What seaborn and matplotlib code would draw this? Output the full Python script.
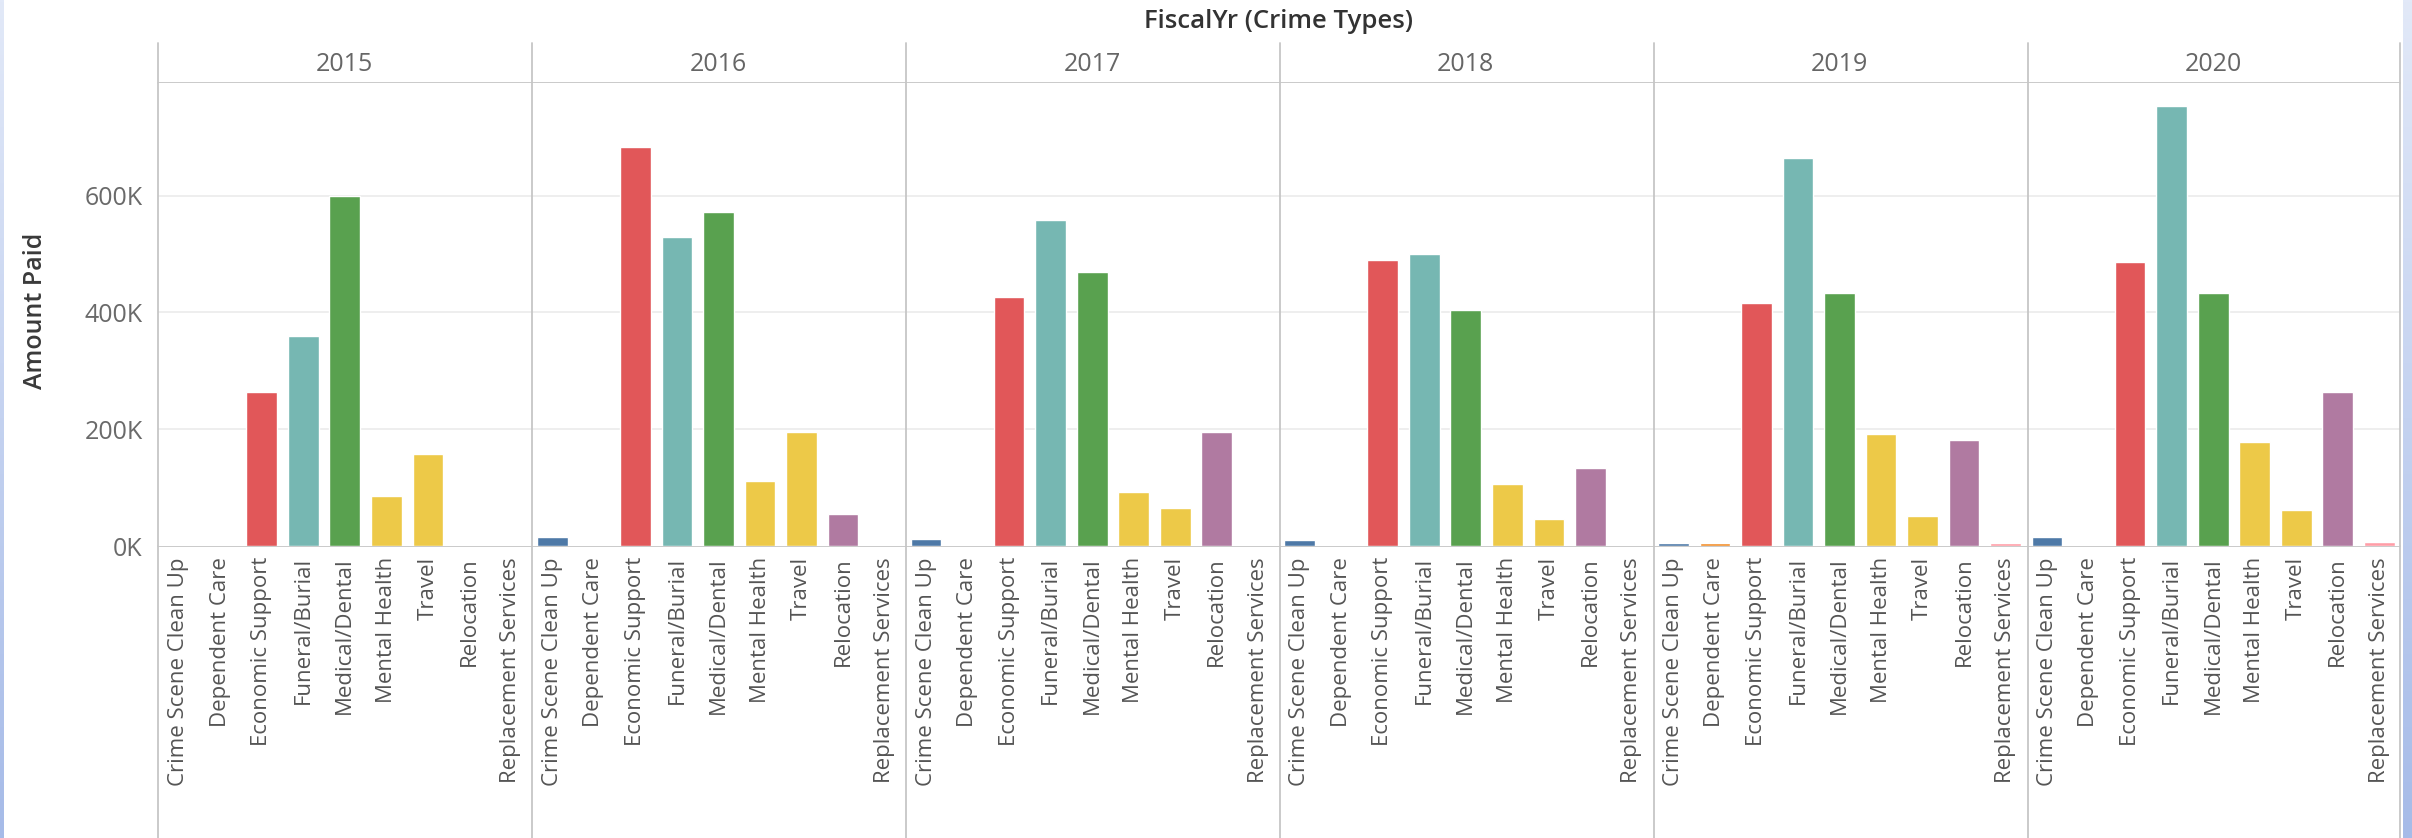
import numpy as np
import pandas as pd
import seaborn as sns
import matplotlib.pyplot as plt
from matplotlib.lines import Line2D
from matplotlib.colors import LinearSegmentedColormap

# categories and amounts (thousands)
crime_types = ["Crime Scene Clean Up", "Dependent Care", "Economic Support",
               "Funeral/Burial", "Medical/Dental", "Mental Health", "Travel",
               "Relocation", "Replacement Services"]
years = ["2015", "2016", "2017", "2018", "2019", "2020"]

paid_2015 = [0, 0, 263, 359, 600, 86, 158, 0, 0]
paid_2016 = [15, 0, 683, 530, 572, 111, 196, 55, 0]
paid_2017 = [12, 0, 427, 558, 469, 93, 65, 196, 0]
paid_2018 = [10, 0, 489, 500, 404, 107, 46, 133, 0]
paid_2019 = [5, 5, 416, 665, 434, 192, 51, 182, 5]
paid_2020 = [15, 0, 487, 754, 434, 178, 62, 263, 7]

colors = ["#4e79a7", "#f28e2b", "#e15759", "#76b7b2", "#59a14f",
          "#edc948", "#edc948", "#b07aa1", "#ff9da7"]

y_ticks = [0, 200000, 400000, 600000]
y_tick_labels = ["0K", "200K", "400K", "600K"]

# long table for seaborn
all_paid = [paid_2015, paid_2016, paid_2017, paid_2018, paid_2019, paid_2020]
rows = []
for yr, vals in zip(years, all_paid):
    for ct, v in zip(crime_types, vals):
        rows.append({"FiscalYr": yr, "Crime Type": ct, "Amount Paid": v * 1000})
df = pd.DataFrame(rows)

palette = dict(zip(crime_types, colors))

sns.set_style("white")
plt.rcParams["font.family"] = ["Open Sans", "DejaVu Sans"]

W, H = 2412, 838
g = sns.catplot(data=df, x="Crime Type", y="Amount Paid", col="FiscalYr",
                hue="Crime Type", palette=palette, kind="bar", errorbar=None,
                width=0.74, saturation=1, legend=False, order=crime_types,
                col_order=years, height=5, aspect=1)
fig = g.figure
fig.set_size_inches(W / 100, H / 100)
fig.set_facecolor("white")

left, right, top, bottom = 158, 2400, 83, 546
fig.subplots_adjust(left=left / W, right=right / W, top=1 - top / H,
                    bottom=1 - bottom / H, wspace=0)

g.set_titles("")
g.set_axis_labels("", "")

grid_c = "#ebebeb"
line_c = "#c6c6c6"
axes = g.axes.flat
axes[0].set_ylim(0, 793000)
axes[0].set_yticks(y_ticks)
axes[0].set_yticklabels(y_tick_labels)
for i, ax in enumerate(axes):
    ax.set_xlim(-0.5, len(crime_types) - 0.5)
    for v in y_ticks[1:]:
        ax.axhline(v, color=grid_c, lw=1.2, zorder=0)
    for s in ax.spines.values():
        s.set_visible(False)
    ax.tick_params(axis="y", length=0, pad=11, labelsize=18, labelcolor="#6a6a6a",
                   labelleft=(i == 0))
    ax.tick_params(axis="x", length=0, pad=8, labelsize=16, labelcolor="#555555")
    ax.set_xticks(range(len(crime_types)))
    ax.set_xticklabels(crime_types, rotation=90, ha="center", va="top")
    ax.text(0.5, 1 + 19 / (bottom - top), years[i], transform=ax.transAxes,
            ha="center", va="center", fontsize=18, color="#666666")

# Tableau-style panel lines
for x in [158, 532, 906, 1280, 1654, 2028, 2400]:
    fig.add_artist(Line2D([x / W, x / W], [0, 1 - 43 / H], color=line_c, lw=1.3))
for y in [top, bottom]:
    fig.add_artist(Line2D([left / W, right / W], [1 - y / H, 1 - y / H],
                          color=line_c, lw=1.3, zorder=0))

fig.text(1279 / W, 1 - 22 / H, "FiscalYr (Crime Types)", ha="center", va="center",
         fontsize=18.5, color="#333333", fontweight="semibold")
fig.text(36 / W, 1 - 311 / H, "Amount Paid", ha="center", va="center",
         rotation=90, fontsize=18, color="#3a3a3a", fontweight="semibold")

# blue window edges
grad = np.linspace(0, 1, 256).reshape(-1, 1)
edge_cmap = LinearSegmentedColormap.from_list("edge", ["#e2e9f8", "#a6bbe8"])
for x0, w in [(0, 4), (2403, 9)]:
    eax = fig.add_axes([x0 / W, 0, w / W, 1])
    eax.imshow(grad, aspect="auto", cmap=edge_cmap)
    eax.axis("off")

fig.savefig("out.png", dpi=100)
